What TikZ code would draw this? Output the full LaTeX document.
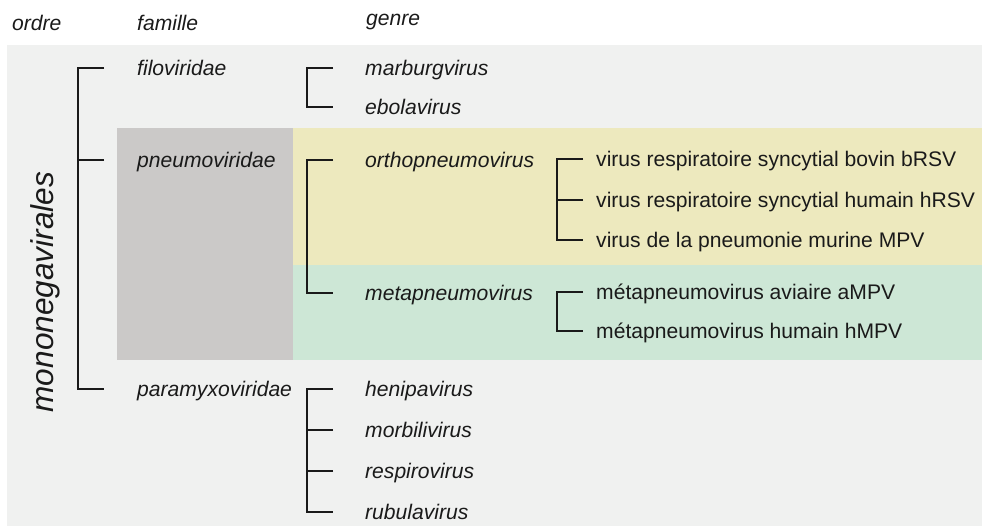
\documentclass[tikz,border=0pt]{standalone}
\usepackage{fontspec}
\setmainfont{Liberation Sans}
\definecolor{bgc}{HTML}{F0F1F0}
\definecolor{grayc}{HTML}{CBC9C8}
\definecolor{yelc}{HTML}{EDE9BE}
\definecolor{grnc}{HTML}{CDE7D6}
\definecolor{inkc}{HTML}{1A1A1A}
\begin{document}
\begin{tikzpicture}[x=1pt,y=-1pt,
  lab/.style={anchor=west,inner sep=0pt,text height=15pt,text depth=0pt,
    font=\fontsize{21.1}{25}\selectfont,text=inkc},
  itl/.style={lab,font=\fontsize{21.1}{25}\selectfont\itshape},
  head/.style={anchor=base west,inner sep=0pt,font=\fontsize{21.1}{25}\selectfont\itshape,text=inkc},
  br/.style={draw=inkc,line width=1.8pt}]
\useasboundingbox (0,0) rectangle (982,526);
% backgrounds
\fill[bgc] (7,45) rectangle (982,526);
\fill[grayc] (117,128) rectangle (293,359.5);
\fill[yelc] (293,128) rectangle (982,265);
\fill[grnc] (293,265) rectangle (982,359.5);
% headers
\node[head] (hord) at (12,31) {ordre};
\node[head] (hfam) at (137,31) {famille};
\node[head] (hgen) at (366,26) {genre};
% order
\node[rotate=90,anchor=base,inner sep=0pt,font=\fontsize{31.6}{36}\selectfont\itshape,text=inkc] (ord) at (53,292) {mononegavirales};
% families
\node[itl] (fil) at (137,68) {filoviridae};
\node[itl] (pneu) at (137,160) {pneumoviridae};
\node[itl] (para) at (137,389) {paramyxoviridae};
% genera
\node[itl] (marb) at (365,68) {marburgvirus};
\node[itl] (ebol) at (365,107) {ebolavirus};
\node[itl] (orth) at (365,160) {orthopneumovirus};
\node[itl] (meta) at (365,293) {metapneumovirus};
\node[itl] (heni) at (365,389) {henipavirus};
\node[itl] (morb) at (365,430) {morbilivirus};
\node[itl] (resp) at (365,471) {respirovirus};
\node[itl] (rubu) at (365,512) {rubulavirus};
% species
\node[lab] (brsv) at (596,159) {virus respiratoire syncytial bovin bRSV};
\node[lab] (hrsv) at (596,200) {virus respiratoire syncytial humain hRSV};
\node[lab] (mpv) at (596,240) {virus de la pneumonie murine MPV};
\node[lab] (ampv) at (596,292) {métapneumovirus aviaire aMPV};
\node[lab] (hmpv) at (596,331) {métapneumovirus humain hMPV};
% order bracket
\draw[br] ([xshift=-33pt]fil.west) -| ([xshift=-59pt]para.west) -- ([xshift=-33pt]para.west);
\draw[br] ([xshift=-33pt]pneu.west) -- ([xshift=-59pt]pneu.west);
% genus brackets
\draw[br] ([xshift=-32pt]marb.west) -| ([xshift=-58pt]ebol.west) -- ([xshift=-32pt]ebol.west);
\draw[br] ([xshift=-32pt]orth.west) -| ([xshift=-58pt]meta.west) -- ([xshift=-32pt]meta.west);
\draw[br] ([xshift=-32pt]heni.west) -| ([xshift=-58pt]rubu.west) -- ([xshift=-32pt]rubu.west);
\draw[br] ([xshift=-32pt]morb.west) -- ([xshift=-58pt]morb.west);
\draw[br] ([xshift=-32pt]resp.west) -- ([xshift=-58pt]resp.west);
% species brackets
\draw[br] ([xshift=-13pt]brsv.west) -| ([xshift=-39pt]mpv.west) -- ([xshift=-13pt]mpv.west);
\draw[br] ([xshift=-13pt]hrsv.west) -- ([xshift=-39pt]hrsv.west);
\draw[br] ([xshift=-13pt]ampv.west) -| ([xshift=-39pt]hmpv.west) -- ([xshift=-13pt]hmpv.west);
\end{tikzpicture}
\end{document}
